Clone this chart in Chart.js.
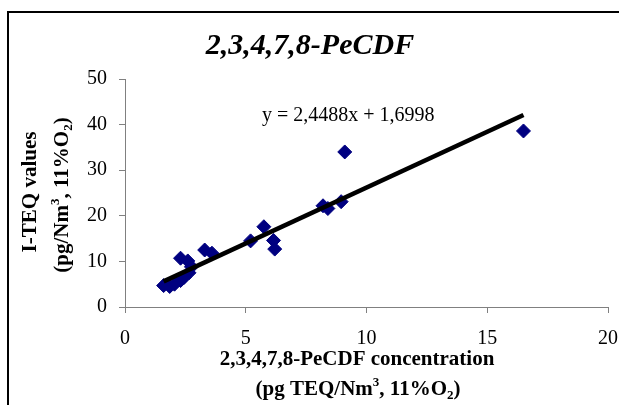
<!DOCTYPE html>
<html>
<head>
<meta charset="utf-8">
<script src="https://cdn.jsdelivr.net/npm/chart.js@4.4.1/dist/chart.umd.min.js"></script>
<style>
  html, body { margin: 0; padding: 0; background: #fff; }
  #wrap { width: 619px; height: 405px; }
</style>
</head>
<body>
<div id="wrap"><canvas id="peChart" width="619" height="405"></canvas></div>
<script>
// values
const concX = [1.6, 1.85, 2.05, 2.3, 2.45, 2.65, 2.75, 2.3, 2.6, 3.3, 3.6, 5.2, 5.75, 6.15, 6.2, 8.2, 8.4, 8.95, 9.1, 16.5];
const teqY  = [4.7, 4.5, 5.0, 5.8, 6.5, 7.5, 8.8, 10.7, 10.1, 12.5, 11.8, 14.5, 17.6, 14.6, 12.7, 22.2, 21.6, 23.1, 34.0, 38.6];
const trendSlope = 2.4488;
const trendIntercept = 1.6998;
const trendX = [1.6, 16.5];
const xTicks = [0, 5, 10, 15, 20];
const yTicks = [0, 10, 20, 30, 40, 50];

const titleText = "2,3,4,7,8-PeCDF";
const eqText = "y = 2,4488x + 1,6998";

const points = concX.map((x, i) => ({ x: x, y: teqY[i] }));
const trendPts = trendX.map(x => ({ x: x, y: trendSlope * x + trendIntercept }));

const SERIF = "'Liberation Serif', 'Times New Roman', serif";

// draw text made of parts (normal / sup / sub), centered at 0,0
function drawRich(ctx, parts, size) {
    let total = 0;
    parts.forEach(p => {
        const s = p.small ? size * 0.62 : size;
        ctx.font = "bold " + s + "px " + SERIF;
        p.w = ctx.measureText(p.t).width;
        total += p.w;
    });
    let x = -total / 2;
    ctx.textAlign = "left";
    ctx.textBaseline = "alphabetic";
    parts.forEach(p => {
        const s = p.small ? size * 0.62 : size;
        ctx.font = "bold " + s + "px " + SERIF;
        let dy = 0;
        if (p.small === "sup") dy = -size * 0.42;
        if (p.small === "sub") dy = size * 0.2;
        ctx.fillText(p.t, x, dy + size * 0.33);
        x += p.w;
    });
}

const decorPlugin = {
    id: "decor",
    beforeDraw(chart) {
        const ctx = chart.ctx;
        ctx.save();
        ctx.fillStyle = "#fff";
        ctx.fillRect(0, 0, chart.width, chart.height);
        ctx.strokeStyle = "#000";
        ctx.lineWidth = 2;
        ctx.strokeRect(8, 12, 1000, 1000);
        ctx.restore();
    },
    afterDraw(chart) {
        const ctx = chart.ctx;
        ctx.save();
        ctx.fillStyle = "#000";
        // title
        ctx.font = "bold italic 30px " + SERIF;
        ctx.textAlign = "center";
        ctx.textBaseline = "middle";
        ctx.fillText(titleText, 310, 46);
        // equation
        ctx.font = "20px " + SERIF;
        ctx.textAlign = "left";
        ctx.fillText(eqText, 262, 116);
        // x axis title
        ctx.save();
        ctx.translate(357, 358);
        drawRich(ctx, [{ t: "2,3,4,7,8-PeCDF concentration" }], 21);
        ctx.restore();
        ctx.save();
        ctx.translate(358, 388);
        drawRich(ctx, [{ t: "(pg TEQ/Nm" }, { t: "3", small: "sup" }, { t: ", 11%O" }, { t: "2", small: "sub" }, { t: ")" }], 21);
        ctx.restore();
        // y axis title
        ctx.save();
        ctx.translate(29, 192);
        ctx.rotate(-Math.PI / 2);
        drawRich(ctx, [{ t: "I-TEQ values" }], 21);
        ctx.restore();
        ctx.save();
        ctx.translate(61, 195);
        ctx.rotate(-Math.PI / 2);
        drawRich(ctx, [{ t: "(pg/Nm" }, { t: "3", small: "sup" }, { t: ", 11%O" }, { t: "2", small: "sub" }, { t: ")" }], 21);
        ctx.restore();
        ctx.restore();
    }
};

const ctx = document.getElementById("peChart").getContext("2d");
new Chart(ctx, {
    type: "scatter",
    data: {
        datasets: [
            {
                type: "line",
                label: "trend",
                data: trendPts,
                borderColor: "#000",
                borderWidth: 4.5,
                pointRadius: 0,
                fill: false,
                order: 0
            },
            {
                label: "PeCDF",
                data: points,
                backgroundColor: "#000080",
                borderColor: "#000080",
                borderWidth: 1,
                pointStyle: "rectRot",
                pointRadius: 7,
                order: 1
            }
        ]
    },
    options: {
        responsive: false,
        animation: false,
        layout: { padding: { left: 0, top: 79, right: 0, bottom: 0 } },
        plugins: {
            legend: { display: false },
            tooltip: { enabled: false },
            title: { display: false }
        },
        scales: {
            x: {
                type: "linear",
                min: 0,
                max: 20,
                afterBuildTicks: axis => { axis.ticks = xTicks.map(v => ({ value: v })); },
                afterFit: axis => {
                    axis.height = 98;
                    axis.paddingLeft = 0;
                    axis.paddingRight = 11;
                },
                grid: { drawOnChartArea: false, tickLength: 6, color: "#808080" },
                border: { color: "#808080", width: 1 },
                ticks: {
                    color: "#000",
                    padding: 14,
                    font: { family: SERIF, size: 20 }
                }
            },
            y: {
                type: "linear",
                min: 0,
                max: 50,
                afterBuildTicks: axis => { axis.ticks = yTicks.map(v => ({ value: v })); },
                afterFit: axis => {
                    axis.width = 125;
                    axis.paddingTop = 0;
                    axis.paddingBottom = 0;
                },
                grid: { drawOnChartArea: false, tickLength: 6, color: "#808080" },
                border: { color: "#808080", width: 1 },
                ticks: {
                    color: "#000",
                    padding: 12,
                    font: { family: SERIF, size: 20 }
                }
            }
        }
    },
    plugins: [decorPlugin]
});
</script>
</body>
</html>
